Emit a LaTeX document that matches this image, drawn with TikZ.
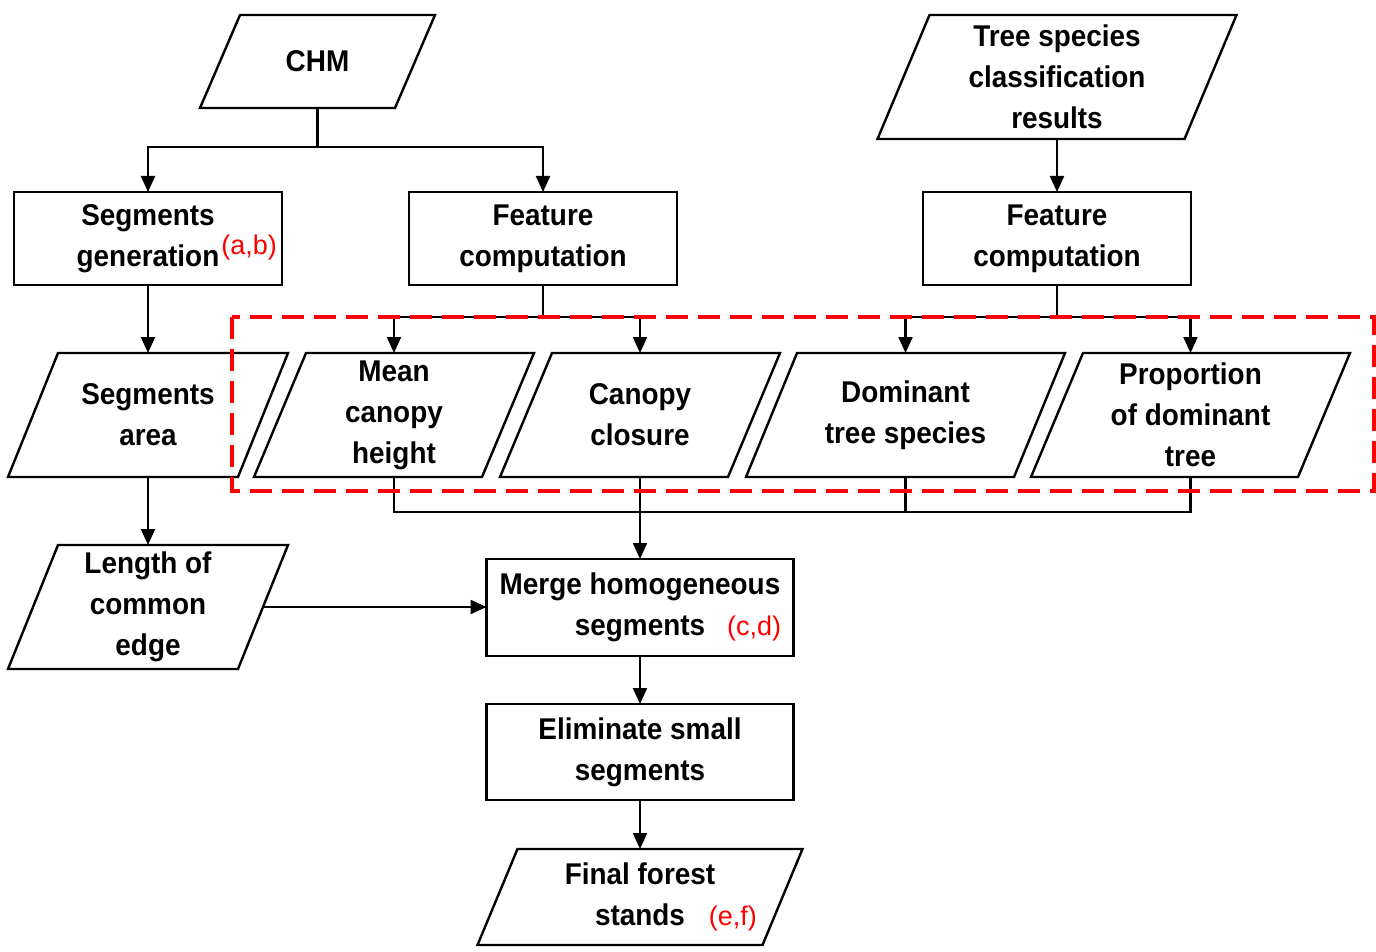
\documentclass[tikz,border=0pt]{standalone}
\usepackage{fontspec}
\setmainfont{Liberation Sans}[FakeStretch=0.93]
\newfontfamily\redfont{Liberation Sans}
\usetikzlibrary{arrows.meta,calc}
\tikzset{
  lbl/.style={inner sep=0pt, outer sep=0pt, align=center, font=\bfseries\fontsize{15pt}{20.5pt}\selectfont},
  rectbox/.style={lbl, draw, line width=1.2pt},
  outl/.style={line width=1.2pt, line join=miter},
  conn/.style={line width=1.1pt},
  arr/.style={conn, -{Triangle[length=8pt,width=7pt]}},
  redbox/.style={draw=red, line width=1.6pt, dash pattern=on 11pt off 5pt},
}
\newcommand\redtag[1]{{\redfont\mdseries\fontsize{13.5pt}{15pt}\selectfont\color{red}#1}}
\newcommand\paral[2]{\draw[outl] ($(#1.north west)+(#2,0)$) -- (#1.north east) -- ($(#1.south east)+(-#2,0)$) -- (#1.south west) -- cycle;}
\begin{document}
\begin{tikzpicture}[x=0.5pt,y=-0.5pt]
\useasboundingbox (0,0) rectangle (1376,952);
% top inputs
\node[lbl, minimum width=117.5pt, minimum height=46.5pt] (chm) at (317.5,61.5) {CHM};
\paral{chm}{40}
\node[lbl, minimum width=179.5pt, minimum height=62pt] (tree) at (1057,77) {Tree species\\classification\\results};
\paral{tree}{52}
% rectangles row
\node[rectbox, minimum width=134pt, minimum height=46.5pt] (seggen) at (148,238.5) {Segments\\generation\rlap{\hspace{1pt}\raisebox{6pt}{\redtag{(a,b)}}}};
\node[rectbox, minimum width=134pt, minimum height=46.5pt] (featL) at (543,238.5) {Feature\\computation};
\node[rectbox, minimum width=134pt, minimum height=46.5pt] (featR) at (1057,238.5) {Feature\\computation};
% parallelogram row
\node[lbl, minimum width=140pt, minimum height=62pt] (area) at (148,415) {Segments\\area};
\paral{area}{50}
\node[lbl, minimum width=140pt, minimum height=62pt] (mean) at (394,415) {Mean\\canopy\\height};
\paral{mean}{52}
\node[lbl, minimum width=140pt, minimum height=62pt] (can) at (640,415) {Canopy\\closure};
\paral{can}{52}
\node[lbl, minimum width=159.5pt, minimum height=62pt] (dom) at (905.5,415) {Dominant\\tree species};
\paral{dom}{51}
\node[lbl, minimum width=159.5pt, minimum height=62pt] (prop) at (1190.5,415) {Proportion\\of dominant\\tree};
\paral{prop}{52}
% lower
\node[lbl, minimum width=140pt, minimum height=62pt] (len) at (148,607) {Length of\\common\\edge};
\paral{len}{50}
\node[rectbox, minimum width=153.5pt, minimum height=48.5pt] (merge) at (640,607.5) {Merge homogeneous\\segments\rlap{\hspace{11pt}\redtag{(c,d)}}};
\node[rectbox, minimum width=153.5pt, minimum height=48pt] (elim) at (640,752) {Eliminate small\\segments};
\node[lbl, minimum width=162.5pt, minimum height=48pt] (final) at (640,897) {Final forest\\stands\rlap{\hspace{12pt}\redtag{(e,f)}}};
\paral{final}{40}
% connectors
\draw[conn] (chm.south) -- ++(0,39) coordinate (chmj);
\draw[arr] (chmj) -| (seggen.north);
\draw[arr] (chmj) -| (featL.north);
\draw[arr] (tree.south) -- (featR.north);
\draw[arr] (seggen.south) -- (area.north);
\draw[conn] (featL.south) -- ++(0,32) coordinate (fLj);
\draw[arr] (fLj) -| (mean.north);
\draw[arr] (fLj) -| (can.north);
\draw[conn] (featR.south) -- ++(0,32) coordinate (fRj);
\draw[arr] (fRj) -| (dom.north);
\draw[arr] (fRj) -| (prop.north);
\draw[arr] (area.south) -- (len.north);
\draw[conn] (mean.south) |- ($(prop.south)+(0,35)$) -- (prop.south);
\draw[conn] (dom.south) -- ++(0,35);
\draw[arr] (can.south) -- (merge.north);
\coordinate (lenR) at ($(len.east)+(-25,0)$);
\draw[arr] (lenR) -- (lenR -| merge.west);
\draw[arr] (merge.south) -- (elim.north);
\draw[arr] (elim.south) -- (final.north);
% red dashed frame
\draw[redbox] (232,317) rectangle (1374,491);
\end{tikzpicture}
\end{document}
